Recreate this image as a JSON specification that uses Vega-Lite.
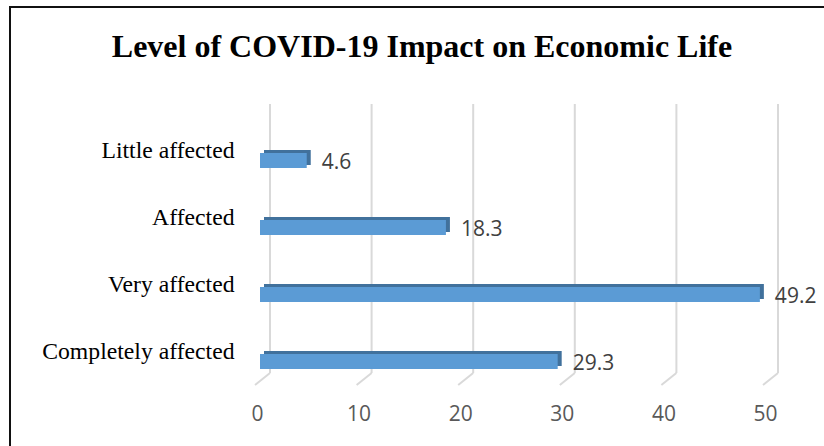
{
  "$schema": "https://vega.github.io/schema/vega-lite/v6.json",
  "width": 508,
  "height": 268,
  "autosize": {"type": "none"},
  "padding": {"left": 260, "top": 127, "right": 56, "bottom": 51},
  "background": "white",
  "title": {
    "text": "Level of COVID-19 Impact on Economic Life",
    "font": "Liberation Serif",
    "fontSize": 32,
    "fontWeight": "bold",
    "color": "#000000",
    "anchor": "middle",
    "frame": "group",
    "baseline": "alphabetic",
    "dx": -92,
    "offset": -83
  },
  "datasets": {
    "impact": [
      {"level": "Little affected", "percent": 4.6},
      {"level": "Affected", "percent": 18.3},
      {"level": "Very affected", "percent": 49.2},
      {"level": "Completely affected", "percent": 29.3}
    ],
    "ticks": [
      {"t": 0}, {"t": 10}, {"t": 20}, {"t": 30}, {"t": 40}, {"t": 50}
    ]
  },
  "config": {"view": {"stroke": null}},
  "layer": [
    {
      "data": {"values": [{}]},
      "mark": {"type": "rect", "fill": null, "stroke": "#111111", "strokeWidth": 2},
      "encoding": {
        "x": {"value": -250},
        "y": {"value": -120},
        "x2": {"value": 620},
        "y2": {"value": 380}
      }
    },
    {
      "data": {"name": "ticks"},
      "mark": {"type": "rule", "color": "#d9d9d9", "strokeWidth": 2, "xOffset": 10, "x2Offset": 10, "yOffset": -23, "y2Offset": -22},
      "encoding": {
        "x": {"field": "t", "type": "quantitative", "scale": {"domain": [0, 50]}},
        "y": {"value": 0},
        "y2": {"value": "height"}
      }
    },
    {
      "data": {"name": "ticks"},
      "mark": {"type": "rule", "color": "#d9d9d9", "strokeWidth": 2, "xOffset": 10, "x2Offset": -5, "yOffset": -22, "y2Offset": -10},
      "encoding": {
        "x": {"field": "t", "type": "quantitative"},
        "x2": {"field": "t"},
        "y": {"value": "height"},
        "y2": {"value": "height"}
      }
    },
    {
      "data": {"name": "impact"},
      "mark": {"type": "bar", "size": 15, "color": "#41719c", "xOffset": 4, "x2Offset": 4, "yOffset": -3, "y2Offset": -3},
      "encoding": {
        "y": {"field": "level", "type": "nominal", "sort": null},
        "x": {"field": "percent", "type": "quantitative"}
      }
    },
    {
      "data": {"name": "impact"},
      "mark": {"type": "bar", "size": 15, "color": "#5b9bd5"},
      "encoding": {
        "y": {
          "field": "level",
          "type": "nominal",
          "sort": null,
          "axis": {
            "title": null,
            "domain": false,
            "ticks": false,
            "grid": false,
            "labelFont": "Liberation Serif",
            "labelFontSize": 23.7,
            "labelColor": "#000000",
            "labelPadding": 26,
            "labelOffset": -10,
            "labelLimit": 300
          }
        },
        "x": {
          "field": "percent",
          "type": "quantitative",
          "scale": {"domain": [0, 50]},
          "axis": {
            "title": null,
            "values": [0, 10, 20, 30, 40, 50],
            "domain": false,
            "ticks": false,
            "grid": false,
            "labelFlush": false,
            "labelOverlap": false,
            "labelFont": "Open Sans",
            "labelFontSize": 21,
            "labelColor": "#595959",
            "labelPadding": 8,
            "labelOffset": -3
          }
        }
      }
    },
    {
      "data": {"name": "impact"},
      "mark": {"type": "text", "align": "left", "baseline": "middle", "dx": 15, "dy": 2, "font": "Open Sans", "fontSize": 21, "color": "#404040"},
      "encoding": {
        "y": {"field": "level", "type": "nominal", "sort": null},
        "x": {"field": "percent", "type": "quantitative"},
        "text": {"field": "percent", "type": "quantitative", "format": ".1f"}
      }
    }
  ]
}
